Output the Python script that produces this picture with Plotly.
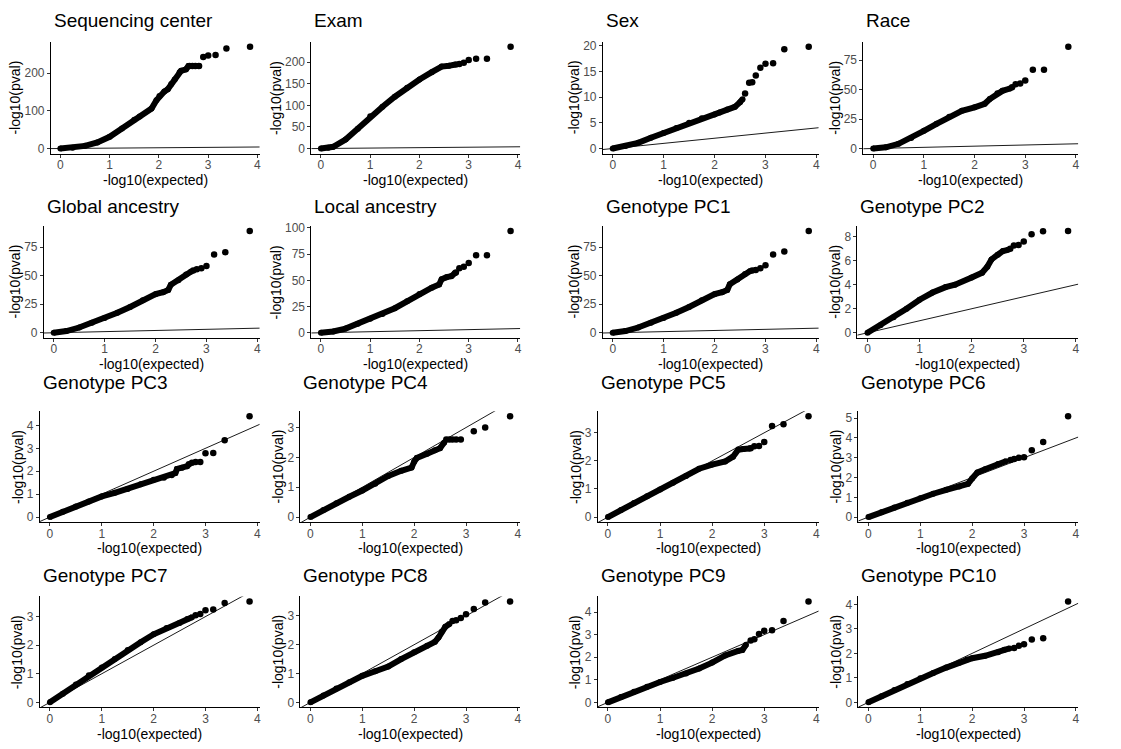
import plotly.graph_objects as go

# ---- data: QQ plots of association p-values, one panel per covariate ----
panel_titles = ["Sequencing center", "Exam", "Sex", "Race",
                "Global ancestry", "Local ancestry", "Genotype PC1", "Genotype PC2",
                "Genotype PC3", "Genotype PC4", "Genotype PC5", "Genotype PC6",
                "Genotype PC7", "Genotype PC8", "Genotype PC9", "Genotype PC10"]

x_ticks = [0, 1, 2, 3, 4]

# dense body of each QQ curve (expected, observed)
seq_x = [0, 0.25, 0.5, 0.75, 1.0, 1.25, 1.5, 1.61, 1.85, 1.95, 2.01, 2.11, 2.18, 2.25, 2.32, 2.42, 2.45, 2.55, 2.6, 2.7, 2.82]
seq_y = [0, 2, 7, 16, 31, 53, 76, 85, 106, 128, 139, 151, 157, 171, 183, 202, 206, 210, 219, 219, 219]
exam_x = [0, 0.15, 0.25, 0.5, 0.75, 1.0, 1.25, 1.5, 1.75, 2.0, 2.25, 2.45, 2.6, 2.7]
exam_y = [0, 2, 4, 21, 46, 75, 97, 120, 141, 160, 177, 190, 192, 194]
sex_x = [0, 0.25, 0.5, 0.75, 1.0, 1.25, 1.5, 1.75, 2.0, 2.1, 2.25, 2.4, 2.5, 2.55]
sex_y = [0, 0.5, 1.1, 2.1, 3.0, 4.0, 5.0, 5.9, 6.6, 7.0, 7.6, 8.1, 9.0, 9.6]
race_x = [0, 0.25, 0.5, 0.75, 1.0, 1.25, 1.5, 1.75, 2.0, 2.2, 2.3, 2.45, 2.55, 2.7]
race_y = [0, 1, 4, 9, 15, 21, 27, 32, 35, 38, 42, 47, 49, 51]
glob_x = [0, 0.25, 0.5, 0.75, 1.0, 1.25, 1.5, 1.75, 2.0, 2.15, 2.25, 2.3, 2.45, 2.6, 2.7]
glob_y = [0, 1.5, 4.6, 8.7, 13, 17.5, 22.6, 28.4, 33.8, 35.5, 37.5, 42, 46, 51, 53.5]
local_x = [0, 0.25, 0.5, 0.75, 1.0, 1.25, 1.5, 1.75, 2.0, 2.25, 2.4, 2.45, 2.55, 2.65, 2.72]
local_y = [0, 1.2, 4, 8.7, 13.4, 18, 23.4, 30, 37, 43, 46, 51, 53, 54, 57]
pc1_x = [0, 0.25, 0.5, 0.75, 1.0, 1.25, 1.5, 1.75, 2.0, 2.15, 2.25, 2.3, 2.45, 2.6, 2.7]
pc1_y = [0, 1.5, 4.6, 8.7, 13, 17.5, 22.6, 28.4, 33.8, 35.5, 37.5, 42.5, 46.5, 51.5, 54]
pc2_x = [0, 0.25, 0.5, 0.75, 1.0, 1.25, 1.5, 1.68, 2.0, 2.2, 2.3, 2.38, 2.5, 2.6, 2.7]
pc2_y = [0, 0.63, 1.3, 2.0, 2.75, 3.35, 3.8, 4.0, 4.6, 5.0, 5.5, 6.1, 6.5, 6.8, 6.9]
pc3_x = [0, 0.25, 0.5, 0.75, 1.0, 1.25, 1.5, 1.75, 2.0, 2.2, 2.35, 2.42, 2.45, 2.55, 2.65]
pc3_y = [0, 0.23, 0.46, 0.68, 0.9, 1.06, 1.23, 1.43, 1.63, 1.72, 1.83, 1.92, 2.1, 2.15, 2.22]
pc4_x = [0, 0.25, 0.5, 0.75, 1.0, 1.25, 1.5, 1.75, 1.95, 2.0, 2.05, 2.25, 2.4, 2.5, 2.58]
pc4_y = [0, 0.24, 0.46, 0.68, 0.89, 1.12, 1.38, 1.55, 1.66, 1.85, 1.98, 2.12, 2.24, 2.31, 2.5]
pc5_x = [0, 0.25, 0.5, 0.75, 1.0, 1.25, 1.5, 1.75, 2.0, 2.25, 2.4, 2.5, 2.6, 2.72]
pc5_y = [0, 0.25, 0.5, 0.74, 0.98, 1.22, 1.46, 1.72, 1.87, 1.98, 2.15, 2.4, 2.42, 2.44]
pc6_x = [0, 0.25, 0.5, 0.75, 1.0, 1.25, 1.5, 1.75, 1.92, 2.0, 2.1, 2.25, 2.5, 2.65]
pc6_y = [0, 0.25, 0.48, 0.72, 0.95, 1.18, 1.38, 1.55, 1.68, 1.95, 2.25, 2.42, 2.68, 2.82]
pc7_x = [0, 0.25, 0.5, 0.75, 1.0, 1.25, 1.5, 1.75, 2.0, 2.25, 2.5, 2.65, 2.74]
pc7_y = [0, 0.3, 0.62, 0.95, 1.22, 1.52, 1.83, 2.1, 2.38, 2.6, 2.78, 2.92, 2.98]
pc8_x = [0, 0.25, 0.5, 0.75, 1.0, 1.25, 1.5, 1.75, 2.0, 2.25, 2.4, 2.47, 2.53, 2.6, 2.68]
pc8_y = [0, 0.24, 0.48, 0.7, 0.92, 1.08, 1.24, 1.5, 1.74, 1.96, 2.1, 2.25, 2.45, 2.62, 2.72]
pc9_x = [0, 0.25, 0.5, 0.75, 1.0, 1.25, 1.5, 1.75, 2.0, 2.25, 2.5, 2.58, 2.65]
pc9_y = [0, 0.24, 0.47, 0.69, 0.9, 1.09, 1.28, 1.5, 1.76, 2.08, 2.28, 2.32, 2.55]
pc10_x = [0, 0.25, 0.5, 0.75, 1.0, 1.25, 1.5, 1.75, 1.9, 2.0, 2.25, 2.5, 2.62, 2.72]
pc10_y = [0, 0.25, 0.5, 0.75, 0.98, 1.2, 1.42, 1.62, 1.75, 1.8, 1.9, 2.05, 2.15, 2.2]

# separated points in the upper tail
seq_top_x = [2.62, 2.68, 2.74, 2.81, 2.9, 3.0, 3.15, 3.37, 3.85]
seq_top_y = [219, 219, 219, 219, 243, 247, 248, 265, 270]
exam_top_x = [2.74, 2.81, 2.9, 3.0, 3.15, 3.37, 3.85]
exam_top_y = [195, 196, 199, 205, 208, 208, 236]
sex_top_x = [2.6, 2.68, 2.74, 2.81, 2.9, 3.0, 3.15, 3.37, 3.85]
sex_top_y = [10.7, 12.8, 12.9, 14.2, 15.7, 16.5, 16.6, 19.3, 19.8]
race_top_x = [2.74, 2.81, 2.9, 3.0, 3.15, 3.37, 3.85]
race_top_y = [52, 54.6, 55.2, 57.7, 67, 67, 86.5]
glob_top_x = [2.74, 2.81, 2.9, 3.0, 3.15, 3.37, 3.85]
glob_top_y = [54.5, 55.5, 56.5, 58.5, 68.5, 70.5, 89]
local_top_x = [2.74, 2.81, 2.9, 3.0, 3.15, 3.37, 3.85]
local_top_y = [57.5, 61.5, 63, 66.5, 74, 74, 97]
pc1_top_x = [2.74, 2.81, 2.9, 3.0, 3.15, 3.37, 3.85]
pc1_top_y = [54.5, 54.8, 56.5, 59, 68.5, 71, 89]
pc2_top_x = [2.74, 2.81, 2.9, 3.0, 3.15, 3.37, 3.85]
pc2_top_y = [7.0, 7.27, 7.3, 7.6, 8.2, 8.45, 8.47]
pc3_top_x = [2.68, 2.74, 2.81, 2.9, 3.0, 3.15, 3.37, 3.85]
pc3_top_y = [2.3, 2.37, 2.4, 2.4, 2.78, 2.8, 3.35, 4.4]
pc4_top_x = [2.62, 2.68, 2.74, 2.81, 2.9, 3.15, 3.37, 3.85]
pc4_top_y = [2.6, 2.6, 2.6, 2.6, 2.6, 2.88, 3.0, 3.38]
pc5_top_x = [2.74, 2.81, 2.9, 3.0, 3.15, 3.37, 3.85]
pc5_top_y = [2.45, 2.52, 2.53, 2.67, 3.24, 3.3, 3.59]
pc6_top_x = [2.74, 2.81, 2.9, 3.0, 3.15, 3.37, 3.85]
pc6_top_y = [2.89, 2.94, 3.0, 3.02, 3.38, 3.8, 5.1]
pc7_top_x = [2.81, 2.9, 3.0, 3.15, 3.37, 3.85]
pc7_top_y = [3.05, 3.09, 3.22, 3.25, 3.48, 3.53]
pc8_top_x = [2.74, 2.81, 2.9, 3.0, 3.15, 3.37, 3.85]
pc8_top_y = [2.82, 2.85, 2.93, 3.06, 3.24, 3.46, 3.5]
pc9_top_x = [2.74, 2.81, 2.9, 3.0, 3.15, 3.37, 3.85]
pc9_top_y = [2.74, 2.8, 3.03, 3.17, 3.19, 3.6, 4.47]
pc10_top_x = [2.81, 2.9, 3.0, 3.15, 3.37, 3.85]
pc10_top_y = [2.22, 2.31, 2.37, 2.57, 2.62, 4.12]

# y tick labels per panel
seq_ticks = [0, 100, 200]
exam_ticks = [0, 50, 100, 150, 200]
sex_ticks = [0, 5, 10, 15, 20]
race_ticks = [0, 25, 50, 75]
glob_ticks = [0, 25, 50, 75]
local_ticks = [0, 25, 50, 75, 100]
pc1_ticks = [0, 25, 50, 75]
pc2_ticks = [0, 2, 4, 6, 8]
pc3_ticks = [0, 1, 2, 3, 4]
pc4_ticks = [0, 1, 2, 3]
pc5_ticks = [0, 1, 2, 3]
pc6_ticks = [0, 1, 2, 3, 4, 5]
pc7_ticks = [0, 1, 2, 3]
pc8_ticks = [0, 1, 2, 3]
pc9_ticks = [0, 1, 2, 3, 4]
pc10_ticks = [0, 1, 2, 3, 4]

# null expectation y = x
null_line = [-1, 6]

panels = [
    (seq_x, seq_y, seq_top_x, seq_top_y, seq_ticks),
    (exam_x, exam_y, exam_top_x, exam_top_y, exam_ticks),
    (sex_x, sex_y, sex_top_x, sex_top_y, sex_ticks),
    (race_x, race_y, race_top_x, race_top_y, race_ticks),
    (glob_x, glob_y, glob_top_x, glob_top_y, glob_ticks),
    (local_x, local_y, local_top_x, local_top_y, local_ticks),
    (pc1_x, pc1_y, pc1_top_x, pc1_top_y, pc1_ticks),
    (pc2_x, pc2_y, pc2_top_x, pc2_top_y, pc2_ticks),
    (pc3_x, pc3_y, pc3_top_x, pc3_top_y, pc3_ticks),
    (pc4_x, pc4_y, pc4_top_x, pc4_top_y, pc4_ticks),
    (pc5_x, pc5_y, pc5_top_x, pc5_top_y, pc5_ticks),
    (pc6_x, pc6_y, pc6_top_x, pc6_top_y, pc6_ticks),
    (pc7_x, pc7_y, pc7_top_x, pc7_top_y, pc7_ticks),
    (pc8_x, pc8_y, pc8_top_x, pc8_top_y, pc8_ticks),
    (pc9_x, pc9_y, pc9_top_x, pc9_top_y, pc9_ticks),
    (pc10_x, pc10_y, pc10_top_x, pc10_top_y, pc10_ticks),
]

# ---- layout (pixels) ----
W, H = 1121, 749
lefts = [[51, 312, 604, 865], [44, 312, 604, 859], [40, 301, 599, 860], [40, 301, 599, 860]]
rights = [260, 521, 820, 1080]
tops = [37, 223, 410, 597]
bottoms = [150, 336, 522, 709]
title_base = [23, 211, 389, 584]

FONT = "Liberation Sans, Arial, Helvetica, sans-serif"
TICK_SIZE = 12
AXT_SIZE = 14
TITLE_SIZE = 19


def px(x):
    return x / W


def py(y):
    return 1 - y / H


fig = go.Figure()
layout = dict(width=W, height=H, margin=dict(l=0, r=0, t=0, b=0),
              paper_bgcolor="white", plot_bgcolor="white", showlegend=False,
              font=dict(family=FONT, color="black"))
annotations = []

for i, (bx, by, tx, ty, yticks) in enumerate(panels):
    r, c = divmod(i, 4)
    k = "" if i == 0 else str(i + 1)
    xa, ya = "x" + k, "y" + k
    left, right, top, bot = lefts[r][c], rights[c], tops[r], bottoms[r]

    xmax = max(tx)
    ymax = max(ty)
    xr = [-0.05 * xmax, xmax * 1.05]
    yr = [-0.05 * ymax, ymax * 1.05]

    fig.add_trace(go.Scatter(x=bx, y=by, mode="lines+markers", xaxis=xa, yaxis=ya,
                             line=dict(color="black", width=6),
                             marker=dict(color="black", size=6), hoverinfo="skip"))
    fig.add_trace(go.Scatter(x=tx, y=ty, mode="markers", xaxis=xa, yaxis=ya,
                             marker=dict(color="black", size=6.5), hoverinfo="skip"))
    fig.add_trace(go.Scatter(x=null_line, y=null_line, mode="lines", xaxis=xa, yaxis=ya,
                             line=dict(color="black", width=0.9), hoverinfo="skip"))

    common = dict(showline=True, linecolor="black", linewidth=1, ticks="outside",
                  ticklen=3, tickwidth=1, tickcolor="#333333", showgrid=False,
                  zeroline=False, tickfont=dict(size=TICK_SIZE, color="#4D4D4D", family=FONT),
                  fixedrange=True)
    layout["xaxis" + k] = dict(domain=[px(left), px(right)], range=xr, anchor=ya,
                               tickvals=x_ticks, ticklabelstandoff=-3, **common)
    layout["yaxis" + k] = dict(domain=[py(bot), py(top)], range=yr, anchor=xa,
                               tickvals=yticks, **common)

    # panel title, left aligned with the panel
    annotations.append(dict(text=panel_titles[i], x=px(left + 1), y=py(title_base[r] + 5),
                            xref="paper", yref="paper", xanchor="left", yanchor="bottom",
                            showarrow=False, font=dict(size=TITLE_SIZE, color="black")))
    # x axis title
    annotations.append(dict(text="-log10(expected)", x=px((left + right) / 2), y=py(bot + 26.5),
                            xref="paper", yref="paper", xanchor="center", yanchor="middle",
                            showarrow=False, font=dict(size=AXT_SIZE, color="black")))
    # y axis title, placed left of the widest tick label
    lab_w = max(len(str(t)) for t in yticks) * 0.556 * TICK_SIZE
    annotations.append(dict(text="-log10(pval)", x=px(left - 6 - lab_w - 10), y=py((top + bot) / 2),
                            xref="paper", yref="paper", xanchor="center", yanchor="middle",
                            textangle=-90, showarrow=False,
                            font=dict(size=AXT_SIZE, color="black")))

layout["annotations"] = annotations
fig.update_layout(**layout)
fig.write_html("out.html")
